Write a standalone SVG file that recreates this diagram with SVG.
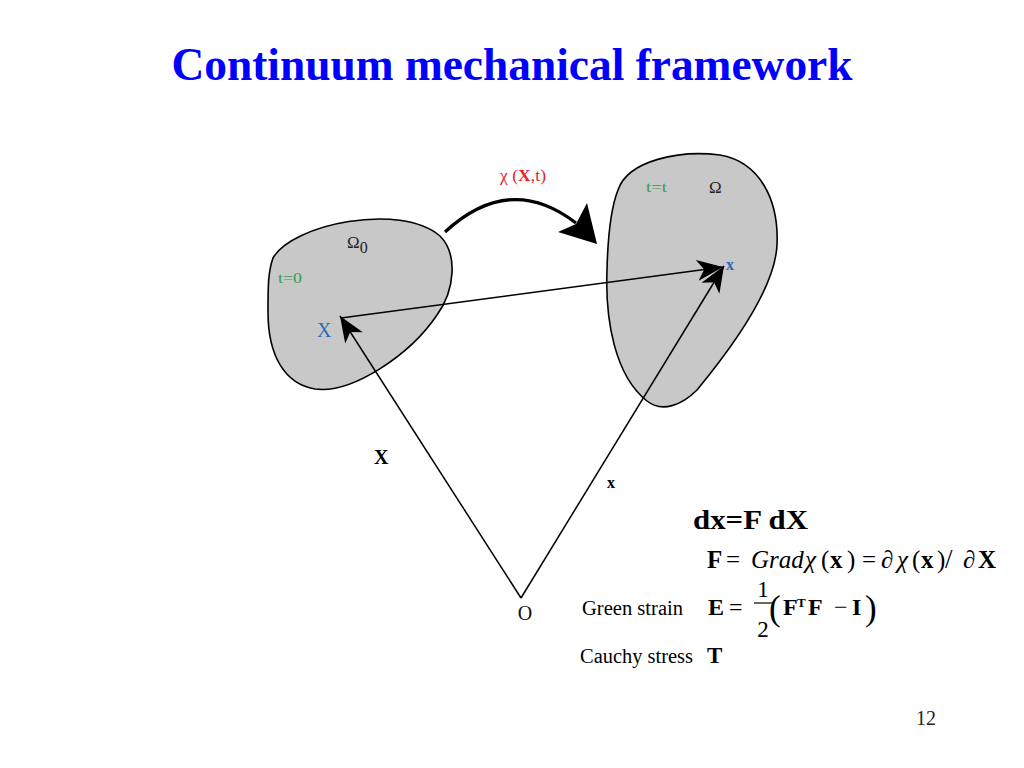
<svg xmlns="http://www.w3.org/2000/svg" width="1024" height="768" viewBox="0 0 1024 768">
<style>
.serif{font-family:"Liberation Serif","Times New Roman",serif}
.blob{fill:#c8c8c8;stroke:#000;stroke-width:1.6}
.line{fill:none;stroke:#000;stroke-width:1.5}
.b{font-weight:bold}
.i{font-style:italic}
.green{fill:#3a9a4a}
.blue{fill:#2a6ab8}
</style>
<defs>
<marker id="ah" markerUnits="userSpaceOnUse" markerWidth="30" markerHeight="24" viewBox="-28 -12 30 24" refX="0" refY="0" orient="auto">
<path d="M0,0 L-26,-10.5 L-19,0 L-26,10.5 Z" fill="#000"/>
</marker>
</defs>
<rect width="1024" height="768" fill="#fff"/>
<text class="serif b" x="512" y="80" font-size="46" fill="#0000ff" text-anchor="middle" textLength="681" lengthAdjust="spacingAndGlyphs">Continuum mechanical framework</text>

<g id="body-initial">
<path class="blob" d="M273 258 C292 224 400 202 440 236 C458 254 455 290 437 315 C410 355 352 394 315 389 C285 384 268 356 268 312 C268 287 268 272 273 258 Z"/>
<text class="serif" x="347" y="248" font-size="17" fill="#222">Ω<tspan font-size="16" dy="5">0</tspan></text>
<text class="serif green" x="278" y="283" font-size="15" textLength="24" lengthAdjust="spacingAndGlyphs">t=0</text>
<text class="serif blue" x="317" y="337" font-size="20">X</text>
</g>

<g id="body-current">
<path class="blob" d="M618 190 C628 160 680 150 720 155 C760 162 779 200 777 245 C775 290 730 350 697 390 C682 405 662 413 647 401 C615 376 605 320 607 270 C608 230 612 205 618 190 Z"/>
<text class="serif green" x="646" y="192" font-size="14" textLength="21" lengthAdjust="spacingAndGlyphs">t=t</text>
<text class="serif" x="709" y="193" font-size="17" fill="#222">Ω</text>
<text class="serif b blue" x="726" y="270" font-size="16">x</text>
</g>

<g id="mapping">
<path d="M445 232 Q510 172 576 223" fill="none" stroke="#000" stroke-width="3.2"/>
<polygon points="597,244 558,232 576,224 587,203" fill="#000"/>
<text class="serif" x="500" y="181" font-size="17" fill="#e8202a" textLength="46" lengthAdjust="spacingAndGlyphs">χ (<tspan class="b">X</tspan>,t)</text>
</g>

<g id="origin">
<text class="serif" x="525" y="620" font-size="20" text-anchor="middle" fill="#111">O</text>
</g>

<g id="connectors">
<line class="line" x1="521" y1="598" x2="340" y2="316" marker-end="url(#ah)"/>
<line class="line" x1="521" y1="598" x2="724" y2="266" marker-end="url(#ah)"/>
<line class="line" x1="341" y1="318" x2="723" y2="267" marker-end="url(#ah)"/>
</g>

<g id="vector-labels">
<text class="serif b" x="374" y="464" font-size="20">X</text>
<text class="serif b" x="607" y="488" font-size="16">x</text>
</g>

<g id="equations" class="serif">
<text class="b" x="693" y="529" font-size="27" textLength="115" lengthAdjust="spacingAndGlyphs">dx=F dX</text>
<text x="707" y="568" font-size="25"><tspan class="b">F</tspan><tspan x="726">=</tspan><tspan class="i" x="751">Grad</tspan><tspan class="i" x="805">χ</tspan><tspan x="821">(</tspan><tspan class="b" x="830">x</tspan><tspan x="847">)</tspan><tspan x="862">=</tspan><tspan x="881">∂</tspan><tspan class="i" x="897">χ</tspan><tspan x="912">(</tspan><tspan class="b" x="921">x</tspan><tspan x="937">)</tspan><tspan x="945" font-size="27">/</tspan><tspan x="963">∂</tspan><tspan class="b" x="978">X</tspan></text>
<text x="582" y="615" font-size="20" textLength="101" lengthAdjust="spacingAndGlyphs">Green strain</text>
<text x="708" y="615" font-size="24"><tspan class="b">E</tspan><tspan x="729">=</tspan></text>
<text x="763" y="597" font-size="23" text-anchor="middle">1</text>
<line x1="754" y1="603" x2="773" y2="603" stroke="#000" stroke-width="1.2"/>
<text x="763" y="637" font-size="23" text-anchor="middle">2</text>
<text x="769" y="620" font-size="35">(</text>
<text x="783" y="615" font-size="24"><tspan class="b">F</tspan><tspan class="b" x="797" y="607" font-size="13">T</tspan><tspan class="b" x="808" y="615">F</tspan><tspan x="834">−</tspan><tspan class="b" x="852">I</tspan></text>
<text x="865" y="620" font-size="35">)</text>
<text x="580" y="663" font-size="20" textLength="113" lengthAdjust="spacingAndGlyphs">Cauchy stress</text>
<text class="b" x="707" y="663" font-size="23">T</text>
</g>

<text class="serif" x="916" y="725" font-size="20" fill="#222">12</text>
</svg>
